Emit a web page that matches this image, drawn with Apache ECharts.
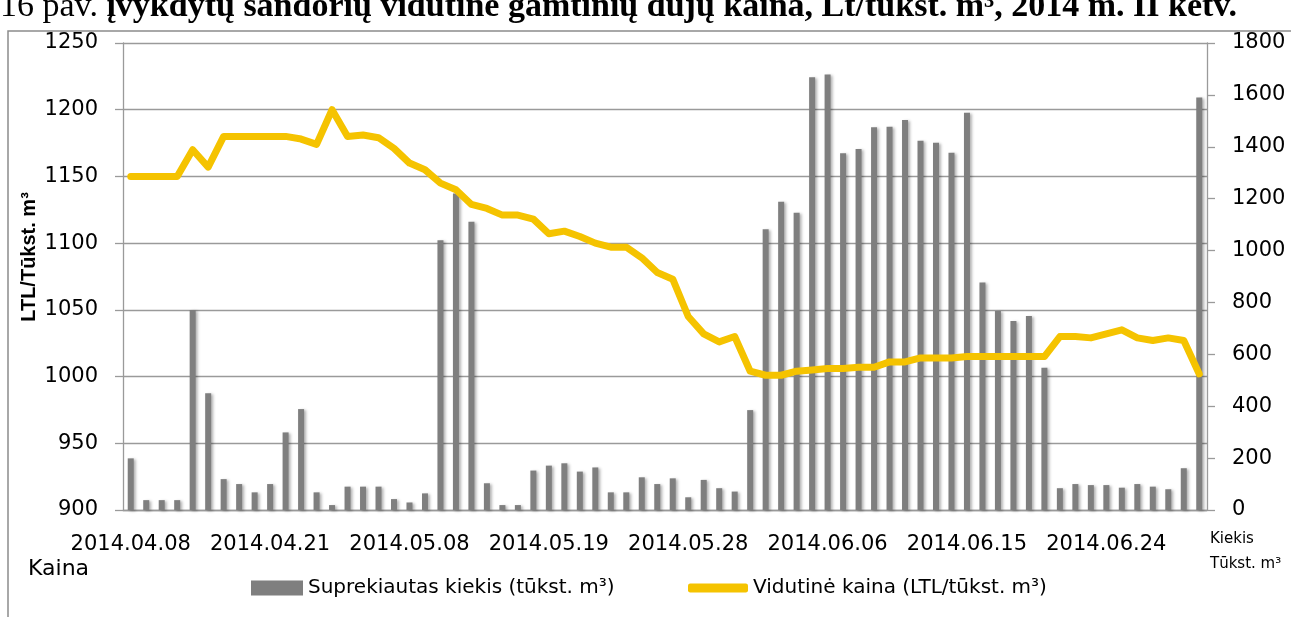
<!DOCTYPE html>
<html>
<head>
<meta charset="utf-8">
<script src="https://cdn.jsdelivr.net/npm/echarts@6/dist/echarts.min.js"></script>
<style>
  html, body { margin: 0; padding: 0; background: #fff; }
  #barChart { width: 1291px; height: 617px; }
</style>
</head>
<body>
<div id="barChart"></div>
<script>
// prekybos dienos (kategorijos)
const dates = [
  '2014.04.08', '2014.04.09', '2014.04.10', '2014.04.11', '2014.04.14', '2014.04.15', '2014.04.16', '2014.04.17', '2014.04.18',
  '2014.04.21', '2014.04.22', '2014.04.23', '2014.04.24', '2014.04.25', '2014.04.28', '2014.04.29', '2014.04.30', '2014.05.06',
  '2014.05.08', '2014.05.09', '2014.05.10', '2014.05.12', '2014.05.13', '2014.05.14', '2014.05.15', '2014.05.16', '2014.05.18',
  '2014.05.19', '2014.05.20', '2014.05.21', '2014.05.22', '2014.05.23', '2014.05.24', '2014.05.25', '2014.05.26', '2014.05.27',
  '2014.05.28', '2014.05.29', '2014.05.30', '2014.05.31', '2014.06.01', '2014.06.02', '2014.06.03', '2014.06.04', '2014.06.05',
  '2014.06.06', '2014.06.07', '2014.06.08', '2014.06.09', '2014.06.10', '2014.06.11', '2014.06.12', '2014.06.13', '2014.06.14',
  '2014.06.15', '2014.06.16', '2014.06.17', '2014.06.18', '2014.06.19', '2014.06.20', '2014.06.21', '2014.06.22', '2014.06.23',
  '2014.06.24', '2014.06.25', '2014.06.26', '2014.06.27', '2014.06.28', '2014.06.29', '2014.06.30'
];

// Suprekiautas kiekis (tūkst. m³)
const volumes = [
  199, 38, 38, 38, 771, 450, 119, 100, 68, 100,
  299, 389, 68, 19, 90, 90, 90, 42, 29, 64,
  1040, 1220, 1111, 103, 19, 19, 152, 171, 180, 148,
  164, 68, 68, 126, 100, 122, 49, 116, 84, 71,
  385, 1082, 1188, 1146, 1668, 1679, 1375, 1391, 1475, 1477,
  1503, 1423, 1416, 1377, 1531, 877, 767, 728, 748, 548,
  84, 100, 96, 96, 86, 100, 90, 80, 161, 1590
];

// Vidutinė kaina (LTL/tūkst. m³)
const prices = [
  1150, 1150, 1150, 1150, 1170, 1157, 1180, 1180, 1180, 1180,
  1180, 1178, 1174, 1200, 1180, 1181, 1179, 1171, 1160, 1155,
  1145, 1140, 1129, 1126, 1121, 1121, 1118, 1107, 1109, 1105,
  1100, 1097, 1097, 1089, 1078, 1073, 1045, 1032, 1026, 1030,
  1004, 1001, 1001, 1004, 1005, 1006, 1006, 1007, 1007, 1011,
  1011, 1014, 1014, 1014, 1015, 1015, 1015, 1015, 1015, 1015,
  1030, 1030, 1029, 1032, 1035, 1029, 1027, 1029, 1027, 1002
];

const seriesNames = ['Suprekiautas kiekis (tūkst. m³)', 'Vidutinė kaina (LTL/tūkst. m³)'];
const titleText = ['16 pav. ', 'įvykdytų sandorių vidutinė gamtinių dujų kaina, Lt/tūkst. m³, 2014 m. II ketv.'];

var myChart = echarts.init(document.getElementById('barChart'));
var axisGray = '#9a9a9a';
var font = 'DejaVu Sans';
var plainNum = function (v) { return String(v); }; // be tūkstančių skyriklio

var option = {
  animation: false,
  backgroundColor: '#fff',
  textStyle: { fontFamily: font },
  grid: { left: 123, right: 84, top: 43, bottom: 107 },
  legend: [
    {
      data: [seriesNames[0]],
      left: 246, top: 573,
      itemWidth: 52, itemHeight: 15,
      icon: 'rect',
      textStyle: { fontFamily: font, fontSize: 20, color: '#000' }
    },
    {
      data: [seriesNames[1]],
      left: 683, top: 573,
      itemWidth: 60, itemHeight: 9,
      icon: 'roundRect',
      textStyle: { fontFamily: font, fontSize: 20, color: '#000' }
    }
  ],
  graphic: [
    {
      // rėmelis
      type: 'polyline',
      shape: { points: [[8, 617], [8, 31], [1291, 31]] },
      style: { stroke: '#8c8c8c', lineWidth: 1.5, fill: null },
      silent: true
    },
    {
      type: 'text',
      x: 0, y: 24,
      style: {
        text: '{n|' + titleText[0] + '}{b|' + titleText[1] + '}',
        verticalAlign: 'bottom',
        rich: {
          n: { fontFamily: 'Liberation Serif', fontSize: 34, fill: '#000' },
          b: { fontFamily: 'Liberation Serif', fontSize: 34, fontWeight: 'bold', fill: '#000' }
        }
      }
    },
    {
      type: 'text',
      x: 29, y: 257, rotation: Math.PI / 2,
      style: {
        text: 'LTL/Tūkst. m³',
        font: 'bold 20px "Liberation Sans"',
        fill: '#000', align: 'center', verticalAlign: 'middle'
      }
    },
    {
      type: 'text',
      x: 28, y: 558,
      style: { text: 'Kaina', font: '22px "DejaVu Sans"', fill: '#000' }
    },
    {
      type: 'text',
      x: 1210, y: 527,
      style: { text: 'Kiekis\nTūkst. m³', font: '15px "DejaVu Sans"', lineHeight: 25, fill: '#000' }
    }
  ],
  xAxis: [
    {
      type: 'category',
      data: dates,
      boundaryGap: true,
      axisLine: { lineStyle: { color: axisGray, width: 1.3 } },
      axisTick: { interval: 4, length: 8, lineStyle: { color: axisGray, width: 1.3 } },
      axisLabel: { interval: 8, margin: 24, fontSize: 21, color: '#000', fontFamily: font }
    }
  ],
  yAxis: [
    {
      type: 'value',
      min: 900, max: 1250, interval: 50,
      axisLine: { show: true, lineStyle: { color: axisGray, width: 1.3 } },
      axisTick: { show: true, length: 8, lineStyle: { color: axisGray, width: 1.3 } },
      axisLabel: { margin: 25, fontSize: 21, color: '#000', fontFamily: font, formatter: plainNum },
      splitLine: { show: true, lineStyle: { color: axisGray, width: 1.3 } }
    },
    {
      type: 'value',
      min: 0, max: 1800, interval: 200,
      position: 'right',
      axisLine: { show: true, lineStyle: { color: axisGray, width: 1.3 } },
      axisTick: { show: true, length: 8, lineStyle: { color: axisGray, width: 1.3 } },
      axisLabel: { margin: 25, fontSize: 21, color: '#000', fontFamily: font, formatter: plainNum },
      splitLine: { show: false }
    }
  ],
  series: [
    {
      name: seriesNames[0],
      type: 'bar',
      yAxisIndex: 1,
      barWidth: 6,
      itemStyle: {
        color: '#7f7f7f',
        shadowColor: 'rgba(0,0,0,0.3)',
        shadowBlur: 3,
        shadowOffsetX: 2,
        shadowOffsetY: 1
      },
      data: volumes
    },
    {
      name: seriesNames[1],
      type: 'line',
      yAxisIndex: 0,
      symbol: 'none',
      itemStyle: { color: '#f5c300' },
      lineStyle: { color: '#f5c300', width: 7, cap: 'round', join: 'round' },
      z: 5,
      data: prices
    }
  ]
};

option && myChart.setOption(option);
</script>
</body>
</html>
